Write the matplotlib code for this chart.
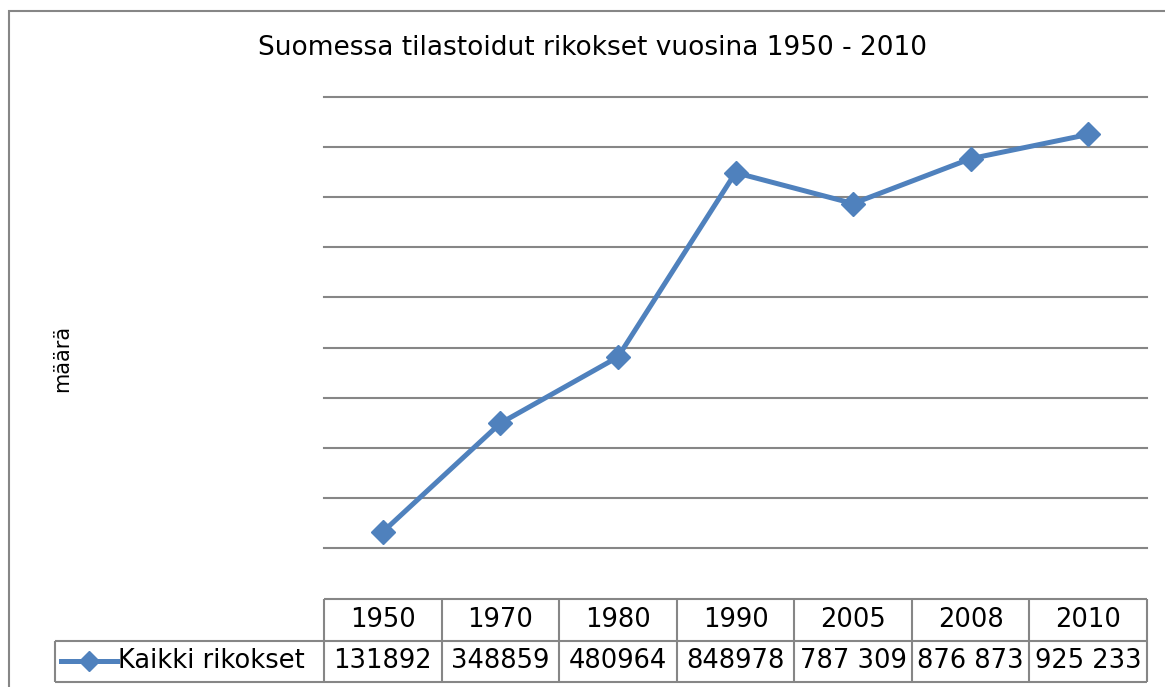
import matplotlib.pyplot as plt
from matplotlib.patches import Rectangle

# === Data ===
years = ["1950", "1970", "1980", "1990", "2005", "2008", "2010"]
values = [131892, 348859, 480964, 848978, 787309, 876873, 925233]
value_labels = ["131892", "348859", "480964", "848978", "787 309", "876 873", "925 233"]
series_name = "Kaikki rikokset"
title = "Suomessa tilastoidut rikokset vuosina 1950 - 2010"
ylabel = "määrä"

# === Style ===
W, H = 1165, 687
BLUE = "#4F81BD"
GRID = "#868686"
plt.rcParams["font.family"] = ["DejaVu Sans"]


def fx(px):
    return px / W


def fy(py):
    return 1 - py / H


fig = plt.figure(figsize=(W / 100, H / 100), dpi=100)

# outer chart border (runs off the right/bottom edge)
fig.patches.append(Rectangle((fx(9), fy(700)), fx(1200) - fx(9), fy(11) - fy(700),
                             transform=fig.transFigure, fill=False,
                             ec=GRID, lw=1.5))

# === Plot area ===
left, right, top, bottom = 324, 1147, 97, 598
ax = fig.add_axes([fx(left), fy(bottom), fx(right) - fx(left), fy(top) - fy(bottom)])
x = list(range(len(years)))
ax.plot(x, values, color=BLUE, lw=3.6, marker="D", ms=12.5, zorder=3)
ax.set_xlim(-0.5, len(years) - 0.5)
ax.set_ylim(0, 1000000)
ax.set_yticks(range(100000, 1000001, 100000))
ax.yaxis.grid(True, color=GRID, lw=1.5)
for gl in ax.get_ygridlines():
    gl.set_clip_on(False)
ax.tick_params(left=False, bottom=False, labelleft=False, labelbottom=False)
for s in ax.spines.values():
    s.set_visible(False)

fig.text(fx(593), fy(48), title, ha="center", va="center", fontsize=19)
fig.text(fx(62), fy(358), ylabel, ha="center", va="center", rotation=90, fontsize=15)

# === Data table ===
tleft, ttop, tbottom = 55, 599, 682
col_w = (right - left) / len(years)
extra = (left - tleft) / col_w
tax = fig.add_axes([fx(tleft), fy(tbottom), fx(right) - fx(tleft), fy(ttop) - fy(tbottom)])
tax.set_xlim(-0.5 - extra, len(years) - 0.5)
tax.set_ylim(0, 2)
tax.axis("off")

edges = [i - 0.5 for i in range(len(years) + 1)]
tax.vlines(edges, 0, 2, color=GRID, lw=1.5, clip_on=False)
tax.vlines(-0.5 - extra, 0, 1, color=GRID, lw=1.5, clip_on=False)
tax.hlines([2], -0.5, len(years) - 0.5, color=GRID, lw=1.5, clip_on=False)
tax.hlines([0, 1], -0.5 - extra, len(years) - 0.5, color=GRID, lw=1.5, clip_on=False)

for i, (yr, lab) in enumerate(zip(years, value_labels)):
    tax.text(i, 1.5, yr, ha="center", va="center", fontsize=18.5)
    tax.text(i, 0.5, lab, ha="center", va="center", fontsize=18.5)

# legend key inside the row label cell
kx0 = -0.5 - extra + 0.05
kx1 = kx0 + 0.48
tax.plot([kx0, kx1], [0.5, 0.5], color=BLUE, lw=3.6, clip_on=False)
tax.plot([(kx0 + kx1) / 2], [0.5], color=BLUE, marker="D", ms=10, clip_on=False)
tax.text(kx1 + 0.01, 0.5, series_name, ha="left", va="center", fontsize=18.5)

fig.savefig("out.png", dpi=100)
